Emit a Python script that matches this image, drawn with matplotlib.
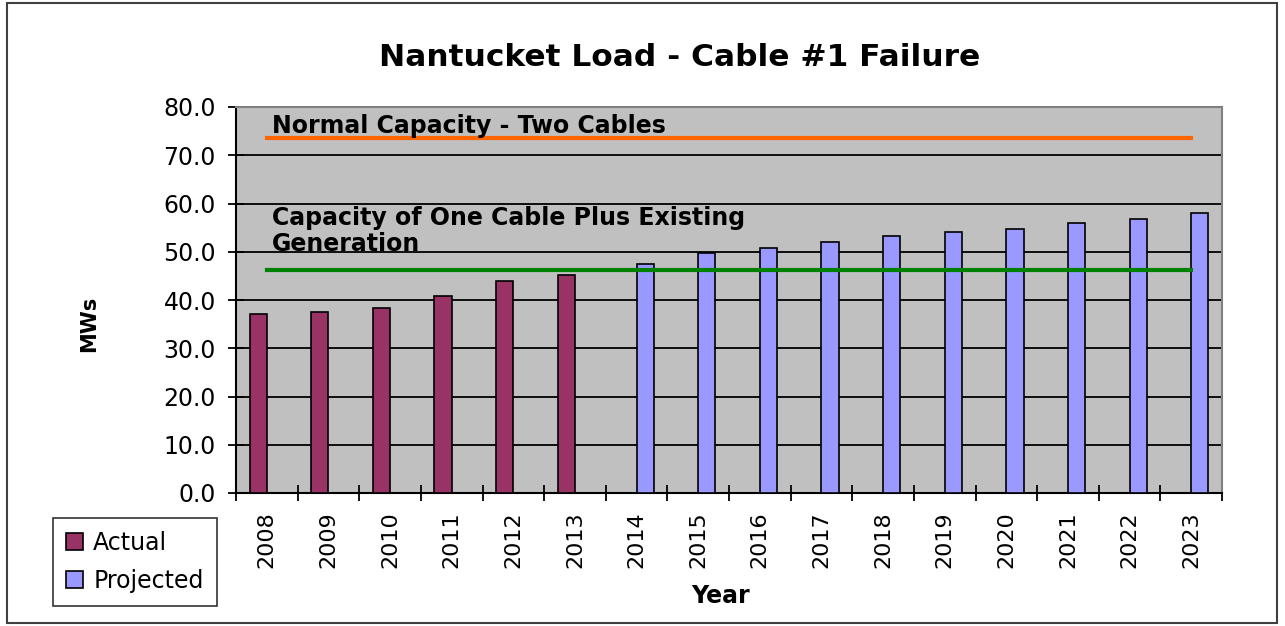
import matplotlib.pyplot as plt
import numpy as np
from matplotlib.patches import Rectangle

plt.rcParams['font.family'] = ['DejaVu Sans']

years = ['2008', '2009', '2010', '2011', '2012', '2013', '2014', '2015',
         '2016', '2017', '2018', '2019', '2020', '2021', '2022', '2023']
actual = [37.1, 37.6, 38.4, 40.8, 44.0, 45.1,
          0, 0, 0, 0, 0, 0, 0, 0, 0, 0]
projected = [0, 0, 0, 0, 0, 0,
             47.5, 49.7, 50.8, 52.1, 53.2, 54.0, 54.8, 56.0, 56.8, 58.1]
normal_capacity = 73.5      # two cables
one_cable_capacity = 46.2   # one cable plus existing generation

fig = plt.figure(figsize=(12.85, 6.26), dpi=100)
ax = fig.add_axes([236 / 1285, 1 - 493 / 626, 986 / 1285, 386 / 626])
ax.set_facecolor('#C0C0C0')

x = np.arange(len(years))
w = 0.28
ax.bar(x - w / 2, actual, width=w, color='#993366', edgecolor='black',
       linewidth=1.2, label='Actual', zorder=3)
ax.bar(x + w / 2, projected, width=w, color='#9999FF', edgecolor='black',
       linewidth=1.2, label='Projected', zorder=3)

ax.plot([x[0], x[-1]], [normal_capacity] * 2, color='#FF6600', lw=3, zorder=4)
ax.plot([x[0], x[-1]], [one_cable_capacity] * 2, color='#008000', lw=3, zorder=4)

ax.text(0.08, 76.0, 'Normal Capacity - Two Cables', fontsize=17,
        fontweight='bold', va='center', ha='left', zorder=5)
ax.text(0.08, 59.5, 'Capacity of One Cable Plus Existing\nGeneration',
        fontsize=17, fontweight='bold', va='top', ha='left',
        linespacing=1.12, zorder=5)

ax.set_xlim(-0.5, len(years) - 0.5)
ax.set_ylim(0, 80)
ax.set_yticks(np.arange(0, 81, 10))
ax.set_yticklabels([f'{v:.1f}' for v in np.arange(0, 81, 10)], fontsize=17)
ax.yaxis.grid(True, color='black', linewidth=1.3, zorder=1)
ax.set_axisbelow(True)

# category boundaries carry the tick marks, centres carry the labels
ax.set_xticks(np.arange(-0.5, len(years)), minor=False)
ax.set_xticklabels([])
ax.set_xticks(x, minor=True)
ax.set_xticklabels(years, minor=True, rotation=90, fontsize=16)
ax.tick_params(axis='x', which='minor', length=0, pad=13)
ax.tick_params(axis='x', which='major', direction='inout', length=11, width=1.3)
ax.tick_params(axis='y', direction='inout', length=11, width=1.3, pad=9)

for side in ['top', 'right']:
    ax.spines[side].set_color('#808080')
    ax.spines[side].set_linewidth(1.5)
for side in ['left', 'bottom']:
    ax.spines[side].set_color('black')
    ax.spines[side].set_linewidth(1.5)

ax.set_ylabel('MWs', fontsize=15, fontweight='bold', va='center')
ax.yaxis.set_label_coords(-0.149, 0.438)
ax.set_xlabel('Year', fontsize=17, fontweight='bold', va='center')
ax.xaxis.set_label_coords(0.491, -0.267)

fig.text(680 / 1285, 1 - 58 / 626, 'Nantucket Load - Cable #1 Failure',
         fontsize=22.5, fontweight='bold', ha='center', va='center')

leg = fig.legend(loc='lower left', bbox_to_anchor=(53 / 1285, 1 - 606 / 626),
                 fontsize=17, frameon=True, fancybox=False, edgecolor='black',
                 handlelength=0.7, handleheight=0.7, handletextpad=0.45,
                 borderpad=0.55, labelspacing=0.6, borderaxespad=0)
leg.get_frame().set_linewidth(1.2)

fig.patches.append(Rectangle((7 / 1285, 3 / 626), 1270 / 1285, 620 / 626,
                             transform=fig.transFigure, fill=False,
                             edgecolor='#404040', linewidth=1.5))

fig.savefig('out.png', dpi=100)
